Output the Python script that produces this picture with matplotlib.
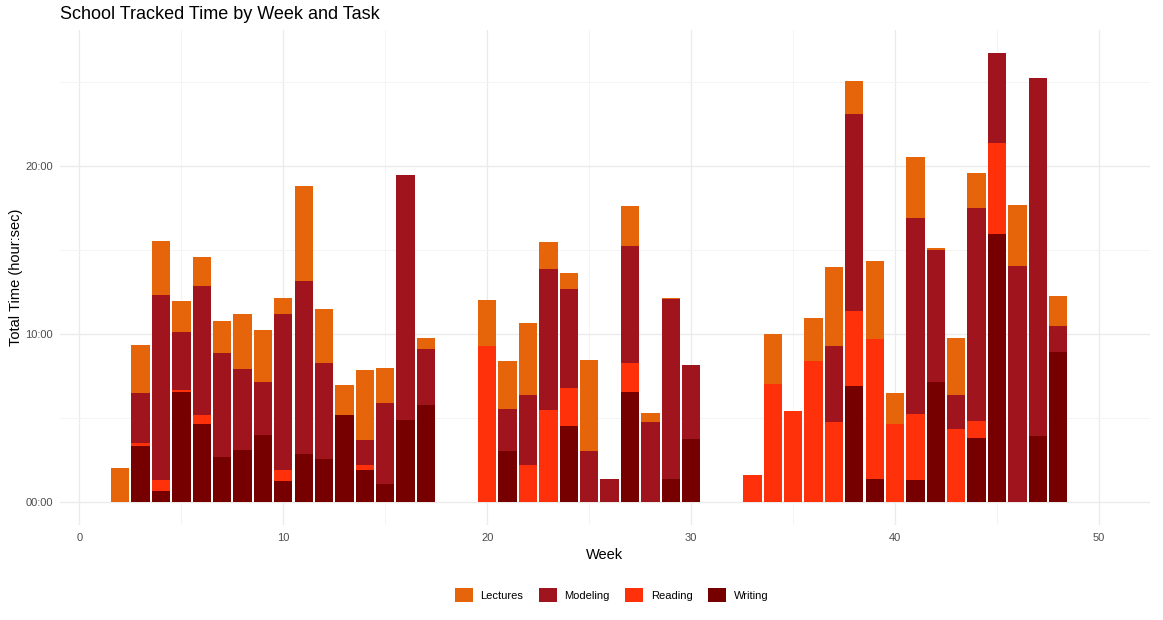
import numpy as np
import matplotlib
matplotlib.use("Agg")
import matplotlib.pyplot as plt
from matplotlib.patches import Patch
from matplotlib.ticker import MultipleLocator, FuncFormatter

plt.rcParams['font.family'] = ['Liberation Sans', 'DejaVu Sans']

# hours per week for each task
weeks = [2, 3, 4, 5, 6, 7, 8, 9, 10, 11, 12, 13, 14, 15, 16, 17,
         20, 21, 22, 23, 24, 25, 26, 27, 28, 29, 30,
         33, 34, 35, 36, 37, 38, 39, 40, 41, 42, 43, 44, 45, 46, 47, 48]

writing = [0, 3.33, 0.65, 6.55, 4.64, 2.68, 3.10, 3.99, 1.25, 2.86, 2.56, 5.18, 1.90, 1.07, 4.88, 5.77,
           0, 3.04, 0, 0, 4.52, 0, 0, 6.55, 0, 1.37, 3.75,
           0, 0, 0, 0, 0, 6.90, 1.37, 0, 1.31, 7.14, 0, 3.81, 15.95, 0, 3.93, 8.93]
reading = [0, 0.17, 0.66, 0.12, 0.54, 0, 0, 0, 0.65, 0, 0, 0, 0.30, 0, 0, 0,
           9.29, 0, 2.20, 5.48, 2.27, 0, 0, 1.72, 0, 0, 0,
           1.60, 7.02, 5.42, 8.39, 4.76, 4.47, 8.33, 4.64, 3.93, 0, 4.35, 1.01, 5.42, 0, 0, 0]
modeling = [0, 3.00, 11.00, 3.43, 7.68, 6.19, 4.82, 3.15, 9.29, 10.29, 5.71, 0, 1.49, 4.82, 14.58, 3.33,
            0, 2.50, 4.17, 8.39, 5.89, 3.04, 1.37, 6.97, 4.76, 10.71, 4.40,
            0, 0, 0, 0, 4.53, 11.73, 0, 0, 11.66, 7.86, 2.02, 12.68, 5.36, 14.05, 21.31, 1.55]
lectures = [2.00, 2.85, 3.20, 1.86, 1.72, 1.90, 3.27, 3.10, 0.95, 5.65, 3.22, 1.78, 4.17, 2.09, 0, 0.66,
            2.73, 2.85, 4.28, 1.61, 0.95, 5.41, 0, 2.38, 0.54, 0.06, 0,
            0, 2.98, 0, 2.56, 4.70, 1.96, 4.65, 1.85, 3.64, 0.12, 3.39, 2.08, 0, 3.63, 0, 1.78]

tasks = ['Lectures', 'Modeling', 'Reading', 'Writing']
colors = {'Lectures': '#E6650A', 'Modeling': '#A0141E', 'Reading': '#FF310A', 'Writing': '#760000'}

fig = plt.figure(figsize=(11.63, 6.2), dpi=100)
ax = fig.add_axes([0.0516, 0.154, 0.9372, 0.797])

# stack from the bottom: Writing, Reading, Modeling, Lectures
bottom = np.zeros(len(weeks))
for name, vals in [('Writing', writing), ('Reading', reading), ('Modeling', modeling), ('Lectures', lectures)]:
    vals = np.array(vals)
    ax.bar(weeks, vals, width=0.9, bottom=bottom, color=colors[name], linewidth=0, zorder=3)
    bottom += vals

ax.set_xlim(-0.95, 52.5)
ax.set_ylim(-1.34, 28.07)

ax.xaxis.set_major_locator(MultipleLocator(10))
ax.xaxis.set_minor_locator(MultipleLocator(5))
ax.yaxis.set_major_locator(MultipleLocator(10))
ax.yaxis.set_minor_locator(MultipleLocator(5))
ax.yaxis.set_major_formatter(FuncFormatter(lambda v, p: f"{int(v):02d}:00"))

ax.grid(which='major', color='#EBEBEB', linewidth=1.0, zorder=0)
ax.grid(which='minor', color='#F3F3F3', linewidth=0.6, zorder=0)
for s in ax.spines.values():
    s.set_visible(False)
ax.tick_params(which='both', length=0, labelsize=8, labelcolor='#4D4D4D')
ax.tick_params(axis='x', pad=6)
ax.tick_params(axis='y', pad=5)

ax.set_xlabel("Week", fontsize=10.5, labelpad=4)
ax.set_ylabel("Total Time (hour:sec)", fontsize=10.5, labelpad=2)
fig.text(0.0516, 0.976, "School Tracked Time by Week and Task", fontsize=13, va='center', ha='left')

handles = [Patch(facecolor=colors[t], label=t) for t in tasks]
fig.legend(handles=handles, loc='center', bbox_to_anchor=(0.526, 0.04), ncol=4, frameon=False,
           fontsize=8, handlelength=1.6, handleheight=1.6, handletextpad=0.7, columnspacing=1.4)

fig.savefig("out.png", dpi=100)
